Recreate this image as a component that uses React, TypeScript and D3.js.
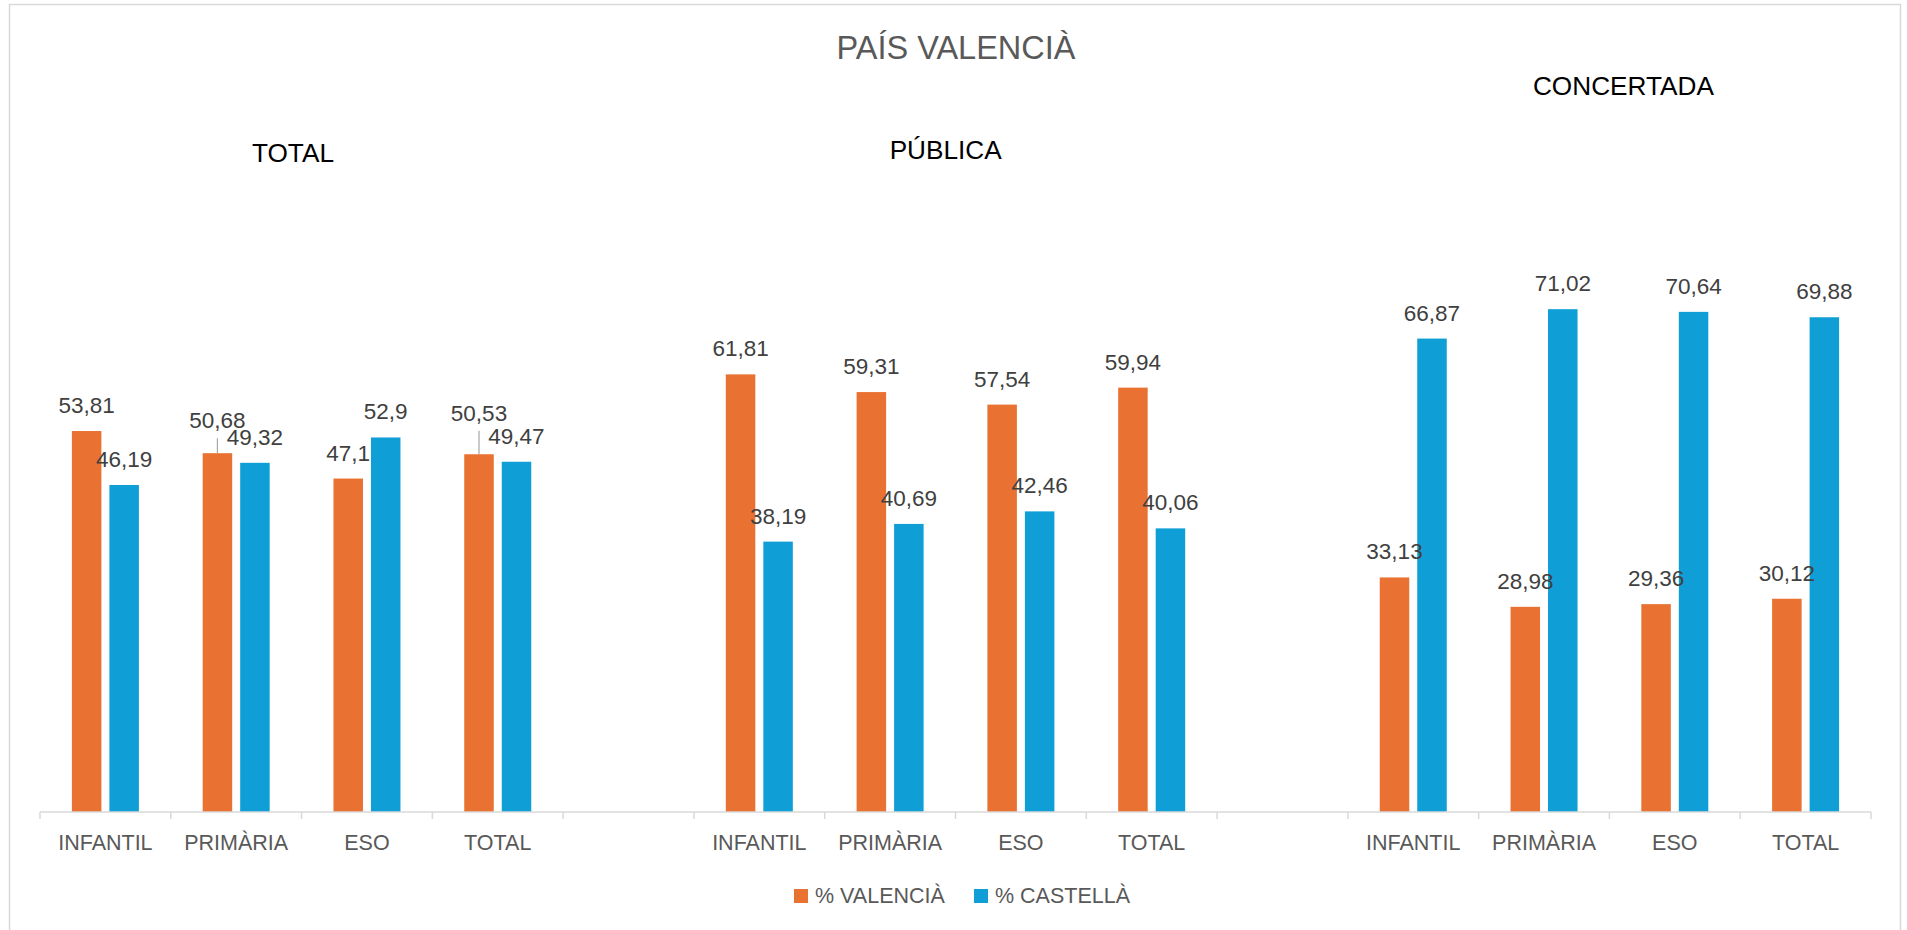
import React from 'react'
import { scaleBand, scaleLinear } from 'd3'

// chart values
const categories = ['INFANTIL', 'PRIMÀRIA', 'ESO', 'TOTAL']
const groups = ['TOTAL', 'PÚBLICA', 'CONCERTADA']
const seriesNames = ['% VALENCIÀ', '% CASTELLÀ']

const valenciaTotal = [53.81, 50.68, 47.1, 50.53]
const castellaTotal = [46.19, 49.32, 52.9, 49.47]
const valenciaPublica = [61.81, 59.31, 57.54, 59.94]
const castellaPublica = [38.19, 40.69, 42.46, 40.06]
const valenciaConcertada = [33.13, 28.98, 29.36, 30.12]
const castellaConcertada = [66.87, 71.02, 70.64, 69.88]

const title = 'PAÍS VALENCIÀ'

const W = 1907
const H = 930
const margin = { left: 40, right: 36, axisY: 812 }
const COLORS = ['#E97132', '#0F9ED5']
const FONT = '"Liberation Sans", Arial, Helvetica, sans-serif'

// labels that were dragged up in the original and got a leader line (px)
const labelLift: Record<string, number> = {
  'TOTAL|PRIMÀRIA|0': 7,
  'TOTAL|TOTAL|0': 15.5,
}
// free-floating group titles: offset from group centre and baseline
const groupTitleLayout = [
  { dx: -8.6, y: 162 },
  { dx: -9.8, y: 158.5 },
  { dx: 14, y: 94.5 },
]

const valuesByGroup = [
  [valenciaTotal, castellaTotal],
  [valenciaPublica, castellaPublica],
  [valenciaConcertada, castellaConcertada],
]

const slots: string[] = []
groups.forEach((g, gi) => {
  if (gi > 0) slots.push(`gap${gi}`)
  categories.forEach(c => slots.push(`${g}|${c}`))
})

const fmt = (v: number) => String(v).replace('.', ',')

export default function App() {
  const x0 = scaleBand<string>()
    .domain(slots)
    .range([margin.left, W - margin.right])
  const groupWidth = 67
  const x1 = scaleBand<number>()
    .domain([0, 1])
    .range([0, groupWidth])
    .paddingInner(0.2133)
  const y = scaleLinear()
    .domain([0, 80])
    .range([margin.axisY, margin.axisY - 80 * 7.08])

  const bars: any[] = []
  groups.forEach((g, gi) => {
    categories.forEach((c, ci) => {
      const slot = `${g}|${c}`
      const start = x0(slot)! + x0.bandwidth() / 2 - groupWidth / 2
      seriesNames.forEach((_, si) => {
        const v = valuesByGroup[gi][si][ci]
        const key = `${slot}|${si}`
        bars.push({
          key,
          x: start + x1(si)!,
          w: x1.bandwidth(),
          top: y(v),
          v,
          si,
          lift: labelLift[key] || 0,
        })
      })
    })
  })

  const ticks = slots.map(s => x0(s)!).concat([W - margin.right])

  return (
    <svg
      width={W}
      height={H}
      style={{ position: 'absolute', left: 0, top: 0, background: '#fff' }}
      fontFamily={FONT}
    >
      <rect x={9.5} y={4.5} width={1891} height={1000} fill="#fff" stroke="#d9d9d9" strokeWidth={1.5} />

      <text x={956} y={59} textAnchor="middle" fontSize={32.5} fill="#595959">
        {title}
      </text>

      {groups.map((g, gi) => {
        const first = x0(`${g}|${categories[0]}`)!
        const last = x0(`${g}|${categories[categories.length - 1]}`)! + x0.bandwidth()
        const l = groupTitleLayout[gi]
        return (
          <text key={g} x={(first + last) / 2 + l.dx} y={l.y} textAnchor="middle" fontSize={26.2} fill="#000">
            {g}
          </text>
        )
      })}

      {bars.map(b => (
        <rect key={b.key} x={b.x} y={b.top} width={b.w} height={margin.axisY - b.top} fill={COLORS[b.si]} />
      ))}

      <line x1={margin.left} x2={W - margin.right} y1={margin.axisY} y2={margin.axisY} stroke="#d9d9d9" strokeWidth={1.5} />
      {ticks.map((t, i) => (
        <line key={i} x1={t} x2={t} y1={margin.axisY} y2={margin.axisY + 7} stroke="#d9d9d9" strokeWidth={1.5} />
      ))}

      {slots
        .filter(s => !s.startsWith('gap'))
        .map(s => (
          <text key={s} x={x0(s)! + x0.bandwidth() / 2} y={850} textAnchor="middle" fontSize={21.5} fill="#595959">
            {s.split('|')[1]}
          </text>
        ))}

      {bars.map(b => {
        const cx = b.x + b.w / 2
        const labelCenter = b.top - 26 - b.lift
        return (
          <g key={`l-${b.key}`}>
            {b.lift > 0 && (
              <line x1={cx} x2={cx} y1={labelCenter + 18} y2={b.top} stroke="#a6a6a6" strokeWidth={1.2} />
            )}
            <text x={cx} y={labelCenter + 8} textAnchor="middle" fontSize={22.5} fill="#404040">
              {fmt(b.v)}
            </text>
          </g>
        )
      })}

      {seriesNames.map((n, i) => (
        <g key={n} transform={`translate(${794 + i * 180},889)`}>
          <rect width={14} height={14} fill={COLORS[i]} />
          <text x={21} y={14} fontSize={21.5} fill="#595959">
            {n}
          </text>
        </g>
      ))}
    </svg>
  )
}
